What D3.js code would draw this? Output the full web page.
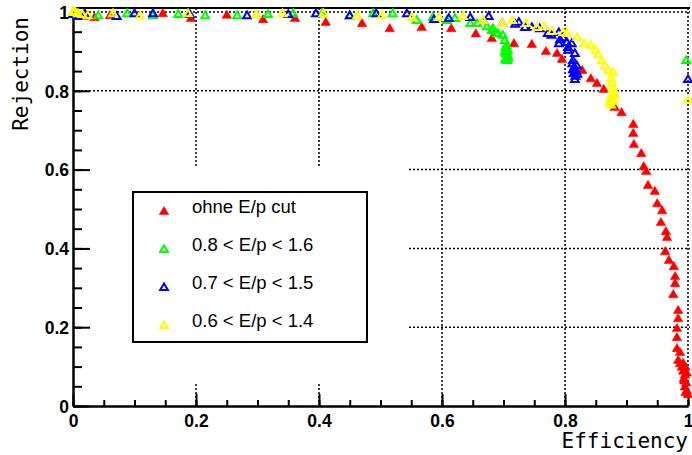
<!DOCTYPE html>
<html>
<head>
<meta charset="utf-8">
<script src="https://cdn.jsdelivr.net/npm/d3@7"></script>
<style>
body { margin: 0; background: #fff; }
svg { display: block; }
.tick text { font-family: "Liberation Sans", Arial, sans-serif; font-weight: bold; font-size: 17.5px; fill: #000; }
.title { font-family: "DejaVu Sans Mono", monospace; font-size: 21px; fill: #000; }
.legend text { font-family: "Liberation Sans", Arial, sans-serif; font-size: 18.5px; fill: #000; }
</style>
</head>
<body>
<div id="chart"></div>
<script>
// rejection vs efficiency, [efficiency, rejection] pairs
var noCut = [
  [0.0, 1.0], [0.018, 0.99], [0.035, 0.987], [0.06, 0.992], [0.146, 0.997], [0.192, 0.985],
  [0.25, 0.993], [0.309, 0.982], [0.361, 0.985], [0.411, 0.975], [0.47, 0.972], [0.515, 0.959],
  [0.567, 0.962], [0.615, 0.959], [0.655, 0.946], [0.681, 0.934], [0.717, 0.921], [0.746, 0.919],
  [0.769, 0.901], [0.787, 0.896], [0.795, 0.881], [0.828, 0.853], [0.842, 0.832], [0.852, 0.82],
  [0.863, 0.805], [0.881, 0.759], [0.892, 0.746], [0.911, 0.716], [0.911, 0.693], [0.912, 0.665],
  [0.924, 0.642], [0.928, 0.609], [0.932, 0.597], [0.935, 0.561], [0.946, 0.546], [0.95, 0.515],
  [0.958, 0.497], [0.956, 0.467], [0.964, 0.444], [0.966, 0.429], [0.963, 0.393], [0.969, 0.371],
  [0.977, 0.355], [0.979, 0.33], [0.979, 0.312], [0.976, 0.284], [0.984, 0.244], [0.984, 0.223],
  [0.982, 0.198], [0.982, 0.175], [0.982, 0.147], [0.987, 0.137], [0.984, 0.117], [0.987, 0.109],
  [0.99, 0.1], [0.992, 0.09], [0.995, 0.08], [0.993, 0.07], [0.997, 0.06], [0.995, 0.05],
  [0.998, 0.04], [0.996, 0.035], [1.0, 0.03], [0.994, 0.065], [0.998, 0.085], [0.992, 0.11],
  [0.996, 0.1]
];
var cut08 = [
  [0.0, 1.0], [0.008, 0.995], [0.041, 0.992], [0.088, 0.997], [0.13, 0.992], [0.171, 0.995],
  [0.215, 0.992], [0.267, 0.992], [0.317, 0.995], [0.358, 0.997], [0.405, 0.997], [0.45, 0.992],
  [0.488, 0.997], [0.52, 0.997], [0.559, 0.98], [0.585, 0.987], [0.608, 0.98], [0.621, 0.985],
  [0.646, 0.972], [0.657, 0.972], [0.667, 0.98], [0.673, 0.964], [0.683, 0.959], [0.681, 0.954],
  [0.689, 0.946], [0.691, 0.946], [0.699, 0.942], [0.702, 0.929], [0.705, 0.916], [0.703, 0.91],
  [0.706, 0.9], [0.704, 0.895], [0.707, 0.89], [0.705, 0.885], [0.703, 0.88], [0.706, 0.878],
  [0.708, 0.884], [0.702, 0.9], [0.707, 0.905], [0.997, 0.878]
];
var cut07 = [
  [0.0, 0.995], [0.007, 0.99], [0.019, 0.997], [0.071, 0.99], [0.1, 0.997], [0.13, 0.997],
  [0.19, 0.995], [0.283, 0.992], [0.35, 0.995], [0.395, 0.997], [0.45, 0.992], [0.493, 0.997],
  [0.543, 0.997], [0.587, 0.982], [0.611, 0.985], [0.646, 0.987], [0.676, 0.99], [0.698, 0.972],
  [0.719, 0.97], [0.725, 0.975], [0.735, 0.962], [0.746, 0.962], [0.759, 0.959], [0.772, 0.947],
  [0.778, 0.942], [0.79, 0.949], [0.792, 0.931], [0.797, 0.936], [0.803, 0.924], [0.79, 0.921],
  [0.805, 0.911], [0.811, 0.921], [0.805, 0.904], [0.816, 0.896], [0.813, 0.878], [0.812, 0.87],
  [0.815, 0.86], [0.818, 0.85], [0.814, 0.845], [0.817, 0.838], [0.82, 0.843], [0.813, 0.855],
  [0.819, 0.865], [0.816, 0.83], [1.0, 0.83]
];
var cut06 = [
  [0.0, 1.0], [0.003, 1.003], [0.008, 0.997], [0.015, 0.995], [0.024, 0.992], [0.065, 0.997],
  [0.109, 0.992], [0.187, 0.997], [0.298, 0.995], [0.341, 0.997], [0.407, 0.997], [0.462, 0.992],
  [0.502, 0.992], [0.551, 0.987], [0.595, 0.987], [0.634, 0.99], [0.667, 0.98], [0.698, 0.972],
  [0.714, 0.98], [0.737, 0.972], [0.754, 0.962], [0.766, 0.964], [0.779, 0.952], [0.797, 0.949],
  [0.803, 0.947], [0.82, 0.937], [0.831, 0.921], [0.842, 0.916], [0.85, 0.904], [0.854, 0.893],
  [0.86, 0.878], [0.865, 0.865], [0.87, 0.853], [0.878, 0.848], [0.875, 0.832], [0.876, 0.82],
  [0.878, 0.807], [0.878, 0.794], [0.874, 0.785], [0.877, 0.778], [0.872, 0.77], [0.879, 0.775],
  [0.875, 0.765], [0.881, 0.79], [1.0, 0.777]
];

var seriesNames = ["ohne E/p cut", "0.8 < E/p < 1.6", "0.7 < E/p < 1.5", "0.6 < E/p < 1.4"];
var xTicks = [0, 0.2, 0.4, 0.6, 0.8, 1];
var yTicks = [0, 0.2, 0.4, 0.6, 0.8, 1];
var xTickLabels = ["0", "0.2", "0.4", "0.6", "0.8", "1"];
var yTickLabels = ["0", "0.2", "0.4", "0.6", "0.8", "1"];
var xTitle = "Efficiency";
var yTitle = "Rejection";

var width = 692, height = 455;
var colors = ["#ff0000", "#00ff00", "#0000ff", "#ffff00"];
var filled = [true, false, false, false];

var x = d3.scaleLinear().domain([0, 1]).range([73, 688]);
var y = d3.scaleLinear().domain([0, 1]).range([406, 12]);
var yTop = y(1.01);

var svg = d3.select("#chart").append("svg")
    .attr("width", width)
    .attr("height", height);

svg.append("rect").attr("width", width).attr("height", height).attr("fill", "#fff");

// dotted grid
var grid = svg.append("g")
    .attr("stroke", "#000")
    .attr("stroke-width", 1.5)
    .attr("stroke-dasharray", "2,2");

grid.selectAll("line.v").data(xTicks.slice(1)).enter()
    .append("line")
        .attr("class", "v")
        .attr("x1", function(d) { return x(d); })
        .attr("x2", function(d) { return x(d); })
        .attr("y1", yTop)
        .attr("y2", y(0));

grid.selectAll("line.h").data(yTicks.slice(1)).enter()
    .append("line")
        .attr("class", "h")
        .attr("x1", x(0))
        .attr("x2", 690)
        .attr("y1", function(d) { return y(d); })
        .attr("y2", function(d) { return y(d); });

// blank pad behind the legend hides part of the grid
svg.append("rect")
    .attr("x", 75).attr("y", 167)
    .attr("width", 334).attr("height", 215)
    .attr("fill", "#fff");

// top frame line
svg.append("line")
    .attr("x1", x(0)).attr("x2", 690)
    .attr("y1", yTop).attr("y2", yTop)
    .attr("stroke", "#000").attr("stroke-width", 2);

var minor = d3.range(0, 1.0001, 0.05);

// minor ticks first, then major axes with labels
svg.append("g")
    .attr("transform", "translate(0," + y(0) + ")")
    .call(d3.axisBottom(x).tickValues(minor).tickSize(-6).tickSizeOuter(0).tickFormat(""));
svg.append("g")
    .attr("transform", "translate(" + x(0) + ",0)")
    .call(d3.axisLeft(y).tickValues(minor).tickSize(-9).tickSizeOuter(0).tickFormat(""));

var xAxis = svg.append("g")
    .attr("transform", "translate(0," + y(0) + ")")
    .call(d3.axisBottom(x).tickValues(xTicks).tickSize(-12).tickSizeOuter(0).tickPadding(5)
        .tickFormat(function(d, i) { return xTickLabels[i]; }));

var yAxis = svg.append("g")
    .attr("transform", "translate(" + x(0) + ",0)")
    .call(d3.axisLeft(y).tickValues(yTicks).tickSize(-17).tickSizeOuter(0).tickPadding(4)
        .tickFormat(function(d, i) { return yTickLabels[i]; }));

svg.selectAll(".domain, .tick line").attr("stroke", "#000").attr("stroke-width", 2);
xAxis.selectAll(".tick text").attr("dy", "0.92em");
yAxis.selectAll(".tick text").attr("dy", "0.36em");

svg.append("text")
    .attr("class", "title")
    .attr("x", 688).attr("y", 448)
    .attr("text-anchor", "end")
    .text(xTitle);

svg.append("text")
    .attr("class", "title")
    .attr("transform", "translate(28,17) rotate(-90)")
    .attr("text-anchor", "end")
    .text(yTitle);

// ROOT style triangle markers
var fullTri = "M0,-4.6L4.8,3.6L-4.8,3.6Z";
var openTri = "M0,-3.6L3.9,3L-3.9,3Z";

function drawMarker(sel, i) {
    sel.append("path")
        .attr("d", filled[i] ? fullTri : openTri)
        .attr("fill", filled[i] ? colors[i] : "none")
        .attr("stroke", colors[i])
        .attr("stroke-width", filled[i] ? 0.5 : 2)
        .attr("stroke-linejoin", "miter");
}

[noCut, cut08, cut07, cut06].forEach(function(series, i) {
    svg.append("g").selectAll("g").data(series).enter()
        .append("g")
            .attr("transform", function(d) { return "translate(" + x(d[0]) + "," + y(d[1]) + ")"; })
            .each(function() { drawMarker(d3.select(this), i); });
});

// legend
var legend = svg.append("g").attr("class", "legend");
legend.append("rect")
    .attr("x", 133).attr("y", 192)
    .attr("width", 234).attr("height", 150)
    .attr("fill", "#fff")
    .attr("stroke", "#000")
    .attr("stroke-width", 2);

var rows = legend.selectAll("g.row").data(seriesNames).enter()
    .append("g")
        .attr("class", "row")
        .attr("transform", function(d, i) { return "translate(0," + (213 + i * 38) + ")"; });

rows.append("g")
    .attr("transform", "translate(164,-2)")
    .each(function(d, i) { drawMarker(d3.select(this), i); });

rows.append("text")
    .attr("x", 192)
    .text(function(d) { return d; });
</script>
</body>
</html>
